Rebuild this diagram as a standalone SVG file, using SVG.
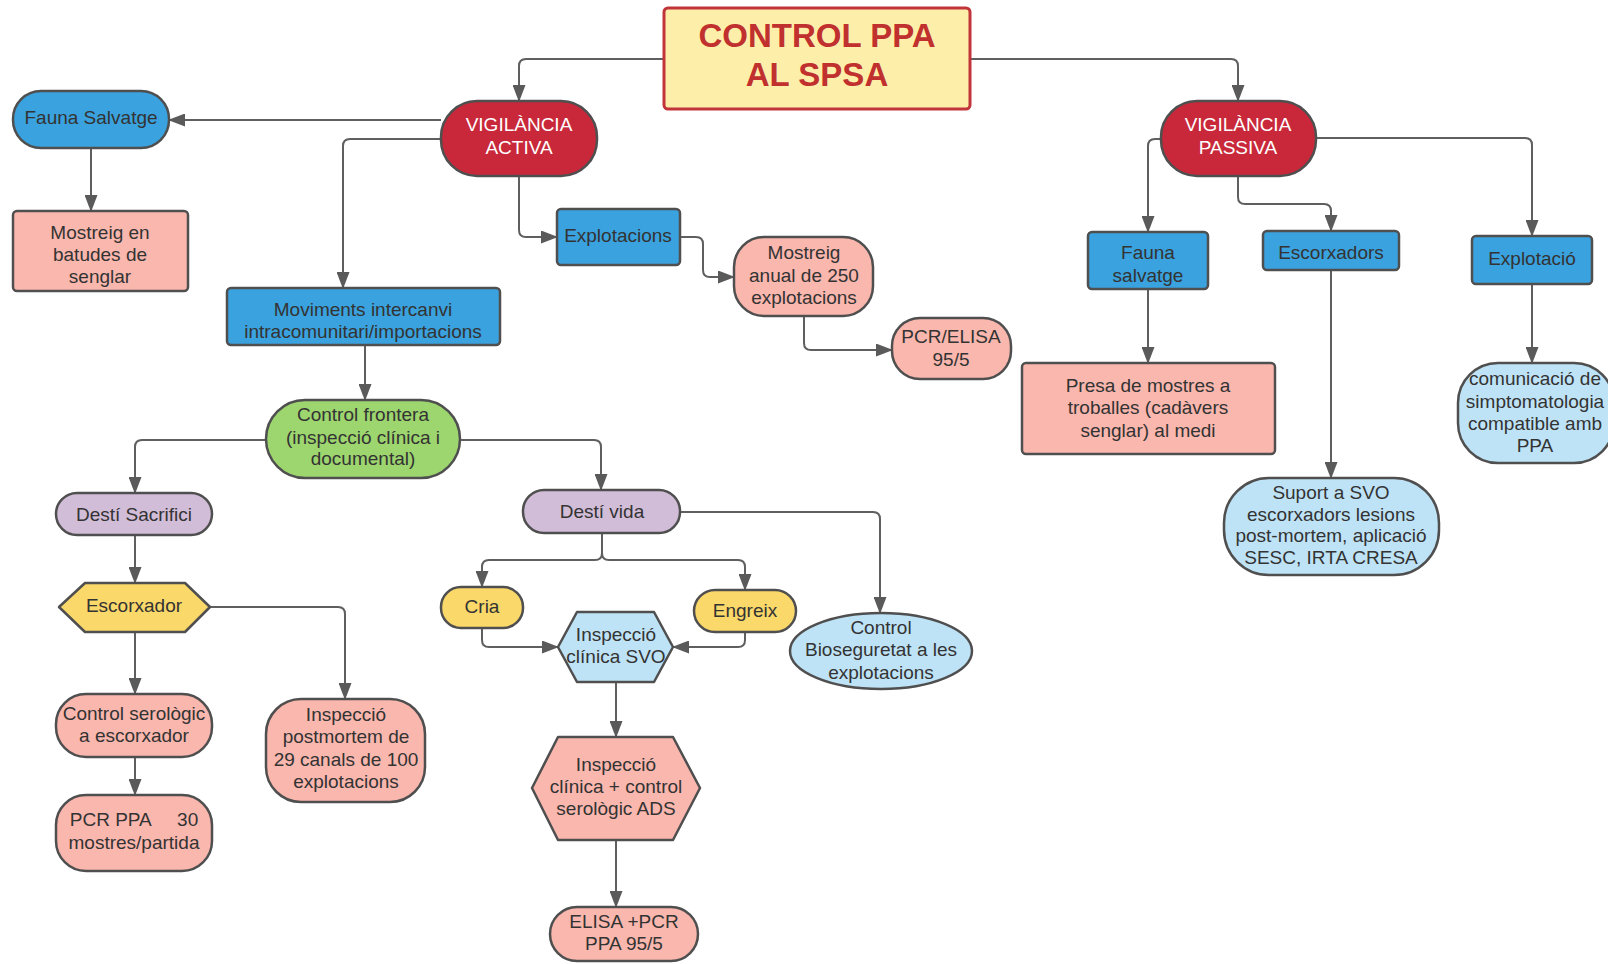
<svg xmlns="http://www.w3.org/2000/svg" width="1608" height="964" viewBox="0 0 1608 964">
<defs>
<marker id="ah" markerWidth="17" markerHeight="13" refX="16" refY="6.5" orient="auto" markerUnits="userSpaceOnUse">
<path d="M0,0 L17,6.5 L0,13 z" fill="#5a5a5a"/>
</marker>
<style>
.n{stroke:#4f4f4f;stroke-width:2.5}
.red{fill:#c8283a}
.blue{fill:#3aa2de}
.pink{fill:#fab7ae}
.lb{fill:#bfe3f6}
.green{fill:#9dd56e}
.purple{fill:#d2bdd8}
.yellow{fill:#fbd86a}
text{font-family:"Liberation Sans",Arial,sans-serif;font-size:19px;fill:#333;text-anchor:middle}
.w{fill:#fff}
.title{font-weight:bold;font-size:33px;fill:#c0302e}
.c path{fill:none;stroke:#5f5f5f;stroke-width:2;marker-end:url(#ah)}
</style>
</defs>
<rect width="1608" height="964" fill="#fff"/>

<g id="connectors" class="c">
<path d="M664 59 H526 Q519 59 519 66 V101"/>
<path d="M970 59 H1231 Q1238 59 1238 66 V101"/>
<path d="M441 120 H169"/>
<path d="M441 139 H350 Q343 139 343 146 V288"/>
<path d="M519 176 V230 Q519 237 526 237 H557"/>
<path d="M91 148 V211"/>
<path d="M680 237 H696 Q703 237 703 244 V270 Q703 277 710 277 H734"/>
<path d="M804 316 V343 Q804 350 811 350 H892"/>
<path d="M365 345 V400"/>
<path d="M1161 139 H1155 Q1148 139 1148 146 V232"/>
<path d="M1238 176 V197 Q1238 204 1245 204 H1324 Q1331 204 1331 211 V231"/>
<path d="M1316 138 H1525 Q1532 138 1532 145 V236"/>
<path d="M1148 289 V363"/>
<path d="M1331 270 V478"/>
<path d="M1532 284 V363"/>
<path d="M266 440 H142 Q135 440 135 447 V493"/>
<path d="M460 440 H594 Q601 440 601 447 V490"/>
<path d="M135 535 V583"/>
<path d="M135 632 V694"/>
<path d="M210 607 H338 Q345 607 345 614 V699"/>
<path d="M135 757 V795"/>
<path d="M602 533 V553 Q602 560 595 560 H489 Q482 560 482 567 V587"/>
<path d="M602 553 Q602 560 609 560 H738 Q745 560 745 567 V590"/>
<path d="M680 512 H873 Q880 512 880 519 V613"/>
<path d="M482 628 V640 Q482 647 489 647 H558"/>
<path d="M745 632 V640 Q745 647 738 647 H673"/>
<path d="M616 682 V737"/>
<path d="M616 840 V907"/>
</g>

<g id="title">
<rect x="664" y="8" width="306" height="101" rx="4" fill="#fdefa9" stroke="#c1343a" stroke-width="3"/>
<text class="title" x="817" y="47">CONTROL PPA</text>
<text class="title" x="817" y="86">AL SPSA</text>
</g>

<g id="vigilancia-activa">
<rect class="n red" x="441" y="101" width="156" height="75" rx="36"/>
<text class="w" x="519" y="131">VIGILÀNCIA</text>
<text class="w" x="519" y="154">ACTIVA</text>
</g>

<g id="vigilancia-passiva">
<rect class="n red" x="1161" y="101" width="155" height="75" rx="36"/>
<text class="w" x="1238" y="131">VIGILÀNCIA</text>
<text class="w" x="1238" y="154">PASSIVA</text>
</g>

<g id="fauna-salvatge-a">
<rect class="n blue" x="13" y="91" width="156" height="57" rx="28"/>
<text x="91" y="124">Fauna Salvatge</text>
</g>

<g id="mostreig-batudes">
<rect class="n pink" x="13" y="211" width="175" height="80" rx="4"/>
<text x="100" y="239">Mostreig en</text>
<text x="100" y="261">batudes de</text>
<text x="100" y="283">senglar</text>
</g>

<g id="explotacions">
<rect class="n blue" x="557" y="209" width="123" height="56" rx="4"/>
<text x="618" y="242">Explotacions</text>
</g>

<g id="moviments">
<rect class="n blue" x="227" y="288" width="273" height="57" rx="4"/>
<text x="363" y="316">Moviments intercanvi</text>
<text x="363" y="338">intracomunitari/importacions</text>
</g>

<g id="mostreig-anual">
<rect class="n pink" x="734" y="237" width="139" height="79" rx="30"/>
<text x="804" y="259">Mostreig</text>
<text x="804" y="282">anual de 250</text>
<text x="804" y="304">explotacions</text>
</g>

<g id="pcr-elisa">
<rect class="n pink" x="892" y="318" width="119" height="61" rx="28"/>
<text x="951" y="343">PCR/ELISA</text>
<text x="951" y="366">95/5</text>
</g>

<g id="fauna-salvatge-p">
<rect class="n blue" x="1088" y="232" width="120" height="57" rx="4"/>
<text x="1148" y="259">Fauna</text>
<text x="1148" y="282">salvatge</text>
</g>

<g id="escorxadors">
<rect class="n blue" x="1263" y="231" width="136" height="39" rx="4"/>
<text x="1331" y="259">Escorxadors</text>
</g>

<g id="explotacio">
<rect class="n blue" x="1472" y="236" width="120" height="48" rx="4"/>
<text x="1532" y="265">Explotació</text>
</g>

<g id="presa-mostres">
<rect class="n pink" x="1022" y="363" width="253" height="91" rx="4"/>
<text x="1148" y="392">Presa de mostres a</text>
<text x="1148" y="414">troballes (cadàvers</text>
<text x="1148" y="437">senglar) al medi</text>
</g>

<g id="suport-svo">
<rect class="n lb" x="1224" y="478" width="215" height="97" rx="45"/>
<text x="1331" y="499">Suport a SVO</text>
<text x="1331" y="521">escorxadors lesions</text>
<text x="1331" y="542">post-mortem, aplicació</text>
<text x="1331" y="564">SESC, IRTA CRESA</text>
</g>

<g id="comunicacio">
<rect class="n lb" x="1458" y="363" width="156" height="100" rx="40"/>
<text x="1535" y="385">comunicació de</text>
<text x="1535" y="408">simptomatologia</text>
<text x="1535" y="430">compatible amb</text>
<text x="1535" y="452">PPA</text>
</g>

<g id="control-frontera">
<rect class="n green" x="266" y="400" width="194" height="78" rx="39"/>
<text x="363" y="421">Control frontera</text>
<text x="363" y="444">(inspecció clínica i</text>
<text x="363" y="465">documental)</text>
</g>

<g id="desti-sacrifici">
<rect class="n purple" x="56" y="493" width="156" height="42" rx="21"/>
<text x="134" y="521">Destí Sacrifici</text>
</g>

<g id="desti-vida">
<rect class="n purple" x="523" y="490" width="157" height="43" rx="21"/>
<text x="602" y="518">Destí vida</text>
</g>

<g id="escorxador">
<polygon class="n yellow" points="59,607 85,583 185,583 210,607 185,632 85,632" stroke-linejoin="round"/>
<text x="134" y="612">Escorxador</text>
</g>

<g id="cria">
<rect class="n yellow" x="441" y="587" width="82" height="41" rx="20"/>
<text x="482" y="613">Cria</text>
</g>

<g id="engreix">
<rect class="n yellow" x="694" y="590" width="102" height="42" rx="21"/>
<text x="745" y="617">Engreix</text>
</g>

<g id="inspeccio-svo">
<polygon class="n lb" points="558,647 577,612 654,612 673,647 654,682 577,682" stroke-linejoin="round"/>
<text x="616" y="641">Inspecció</text>
<text x="616" y="663">clínica SVO</text>
</g>

<g id="control-bioseguretat">
<ellipse class="n lb" cx="881" cy="651" rx="91" ry="38"/>
<text x="881" y="634">Control</text>
<text x="881" y="656">Bioseguretat a les</text>
<text x="881" y="679">explotacions</text>
</g>

<g id="control-serologic">
<rect class="n pink" x="56" y="694" width="156" height="63" rx="30"/>
<text x="134" y="720">Control serològic</text>
<text x="134" y="742">a escorxador</text>
</g>

<g id="pcr-ppa">
<rect class="n pink" x="56" y="795" width="156" height="76" rx="30"/>
<text x="134" y="826" xml:space="preserve">PCR PPA     30</text>
<text x="134" y="849">mostres/partida</text>
</g>

<g id="inspeccio-postmortem">
<rect class="n pink" x="266" y="699" width="159" height="103" rx="35"/>
<text x="346" y="721">Inspecció</text>
<text x="346" y="743">postmortem de</text>
<text x="346" y="766">29 canals de 100</text>
<text x="346" y="788">explotacions</text>
</g>

<g id="inspeccio-control-ads">
<polygon class="n pink" points="532,788 558,737 673,737 700,788 673,840 558,840" stroke-linejoin="round"/>
<text x="616" y="771">Inspecció</text>
<text x="616" y="793">clínica + control</text>
<text x="616" y="815">serològic ADS</text>
</g>

<g id="elisa-pcr">
<rect class="n pink" x="550" y="907" width="148" height="54" rx="27"/>
<text x="624" y="928">ELISA +PCR</text>
<text x="624" y="950">PPA 95/5</text>
</g>
</svg>
